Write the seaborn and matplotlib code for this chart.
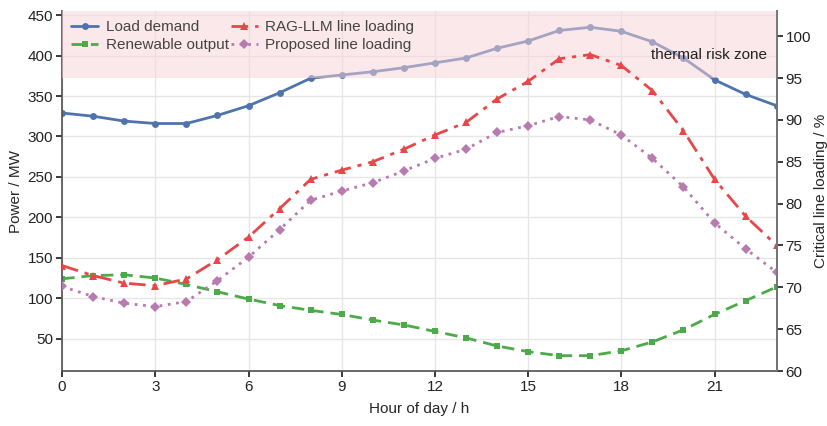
import numpy as np
import pandas as pd
import matplotlib
matplotlib.use("Agg")
import matplotlib.pyplot as plt
import seaborn as sns

hours = list(range(24))
load_demand = [329, 325, 319, 316, 316, 326, 338, 354, 372, 376, 380, 385,
               391, 397, 409, 418, 431, 435, 430, 417, 397, 370, 352, 338]
renewable = [124, 128, 129, 125, 117, 108, 99, 91, 85, 80, 73, 67,
             59, 51, 41, 34, 29, 29, 35, 46, 61, 80, 97, 114]
rag_loading = [72.6, 71.4, 70.5, 70.2, 71.0, 73.3, 76.0, 79.4, 82.9, 84.0, 85.0, 86.5,
               88.2, 89.7, 92.5, 94.6, 97.3, 97.8, 96.5, 93.5, 88.7, 82.9, 78.5, 75.0]
proposed_loading = [70.1, 68.9, 68.1, 67.7, 68.3, 70.8, 73.6, 76.9, 80.4, 81.5, 82.5, 83.9,
                    85.4, 86.5, 88.5, 89.3, 90.4, 90.0, 88.2, 85.4, 82.0, 77.7, 74.6, 71.8]
risk_threshold = 95

df = pd.DataFrame({"hour": hours, "load": load_demand, "ren": renewable,
                   "rag": rag_loading, "prop": proposed_loading})

sns.set_theme(style="ticks")
plt.rcParams["font.family"] = ["Liberation Sans", "DejaVu Sans"]

c_blue = "#4f74ad"
c_green = "#4daa4a"
c_red = "#e8474a"
c_purple = "#b87bb0"

fig = plt.figure(figsize=(8.28, 4.26), dpi=100)
ax = fig.add_axes([0.075, 0.129, 0.863, 0.845])
ax2 = ax.twinx()

ax2.axhspan(risk_threshold, 103, color="#f9d3d7", alpha=0.5, lw=0, zorder=0)

sns.lineplot(data=df, x="hour", y="load", ax=ax, color=c_blue, marker="o",
             markersize=5, markeredgewidth=0, lw=2, label="Load demand", legend=False)
sns.lineplot(data=df, x="hour", y="ren", ax=ax, color=c_green, marker="s",
             markersize=5, markeredgewidth=0, lw=2, linestyle=(0, (4.5, 2.5)),
             label="Renewable output", legend=False)
sns.lineplot(data=df, x="hour", y="rag", ax=ax2, color=c_red, marker="^",
             markersize=6, markeredgewidth=0, lw=2, linestyle=(0, (6, 2.5, 1.5, 2.5)),
             label="RAG-LLM line loading", legend=False)
sns.lineplot(data=df, x="hour", y="prop", ax=ax2, color=c_purple, marker="D",
             markersize=5, markeredgewidth=0, lw=2, linestyle=(0, (1, 2)),
             label="Proposed line loading", legend=False)

ax.set_xlim(0, 23)
ax.set_ylim(10, 455)
ax2.set_ylim(60, 103)
ax.set_xticks(range(0, 24, 3))
ax.set_yticks(range(50, 451, 50))
ax2.set_yticks(range(60, 101, 5))

ax.grid(True, color="#e6e6e6", lw=1)
ax.set_axisbelow(True)
ax.patch.set_visible(False)
ax2.patch.set_visible(False)
ax.set_zorder(1)
ax2.set_zorder(2)

for a in (ax, ax2):
    a.tick_params(labelsize=11, colors="#222222", length=4, pad=2.5)
    a.spines["top"].set_visible(False)
for s in ("left", "bottom", "right"):
    ax.spines[s].set_color("#555555")
    ax2.spines[s].set_color("#555555")
ax2.spines["right"].set_color("#777777")
ax2.spines["left"].set_visible(False)
ax2.spines["bottom"].set_visible(False)

ax.set_xlabel("Hour of day / h", fontsize=11, labelpad=6)
ax.set_ylabel("Power / MW", fontsize=11, labelpad=3)
ax2.set_ylabel("Critical line loading / %", fontsize=11, labelpad=2)

ax2.text(22.7, 97.7, "thermal risk zone", ha="right", va="center", fontsize=11, color="#222222")

h1, l1 = ax.get_legend_handles_labels()
h2, l2 = ax2.get_legend_handles_labels()
ax2.legend(h1 + h2, l1 + l2, loc="upper left", ncol=2, frameon=False, fontsize=11,
           handlelength=1.75, columnspacing=0.15, handletextpad=0.5, labelspacing=0.25,
           borderaxespad=0.3, borderpad=0.3, labelcolor="#444444")

fig.savefig("out.png", dpi=100)
